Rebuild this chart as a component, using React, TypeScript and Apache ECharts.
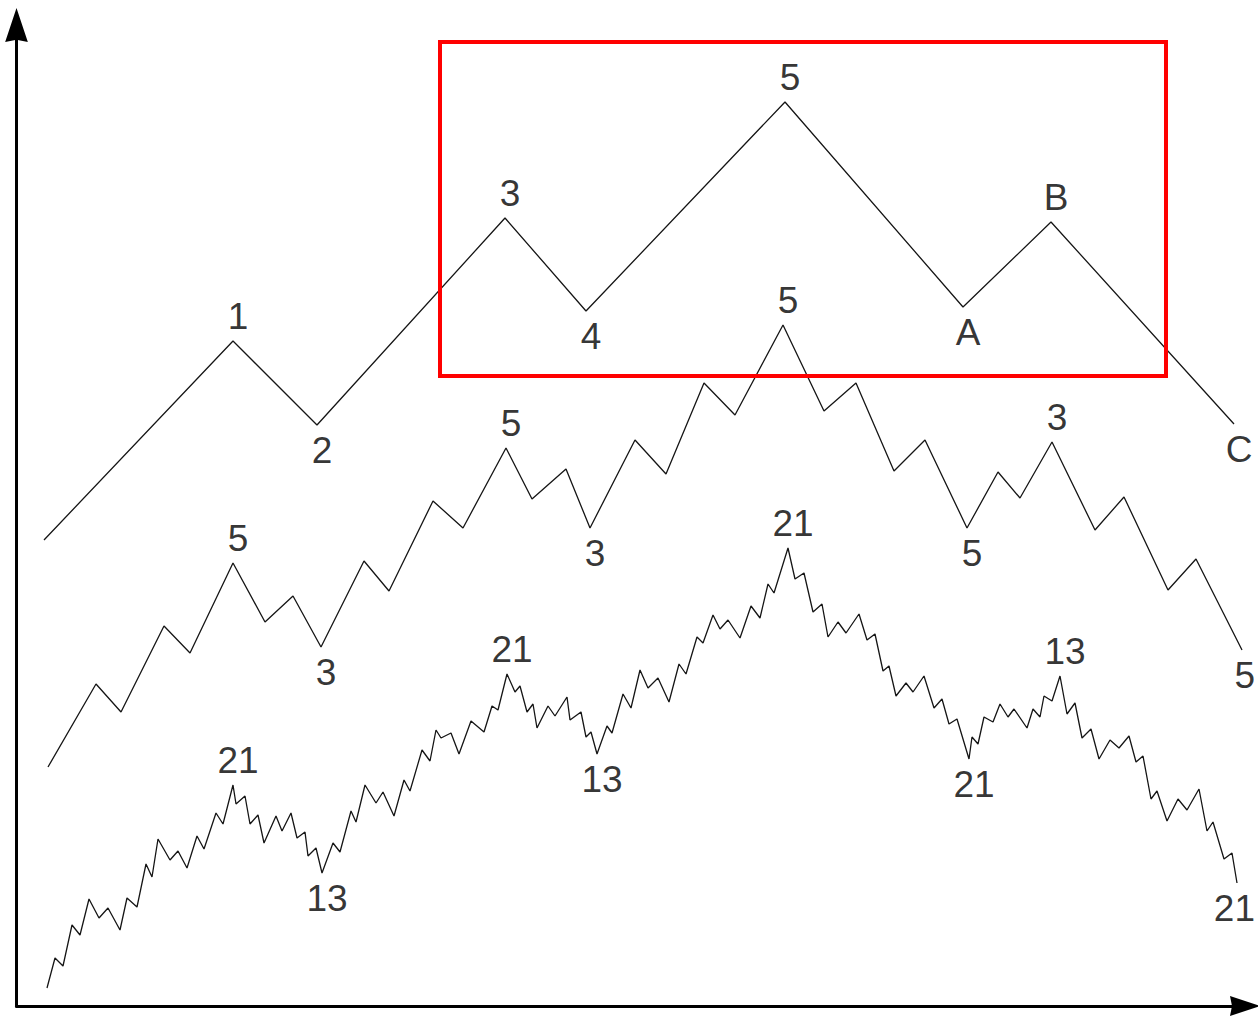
import React, { useEffect, useRef } from 'react';
import * as echarts from 'echarts';

// Each point is [time, level]; level is measured upward from the chart floor.
const cycleWave: [number, number][] = [
  [44, 481], [233, 680], [317, 596], [505, 803], [586, 710],
  [785, 919], [963, 714], [1051, 799], [1234, 597],
];
const cycleLabels = [
  { i: 1, t: '1' }, { i: 2, t: '2' }, { i: 3, t: '3' }, { i: 4, t: '4' },
  { i: 5, t: '5' }, { i: 6, t: 'A' }, { i: 7, t: 'B' }, { i: 8, t: 'C' },
];

const primaryWave: [number, number][] = [
  [48, 254], [96, 337], [121, 309], [164, 395], [190, 368], [233, 458],
  [265, 399], [293, 425], [321, 374],
  [364, 460], [389, 430], [433, 520], [463, 493], [506, 573],
  [532, 522], [566, 552], [590, 493],
  [635, 581], [666, 547], [704, 638], [735, 606], [783, 696],
  [824, 610], [856, 638], [894, 550], [925, 581], [967, 493],
  [998, 549], [1020, 523], [1052, 579],
  [1095, 491], [1124, 524], [1168, 431], [1196, 462], [1242, 371],
];
const primaryLabels = [
  { i: 5, t: '5' }, { i: 8, t: '3' }, { i: 13, t: '5' }, { i: 16, t: '3' },
  { i: 21, t: '5' }, { i: 26, t: '5' }, { i: 29, t: '3' }, { i: 34, t: '5' },
];

const minorWave: [number, number][] = [
  [47, 33], [55, 63], [63, 55], [72, 96], [80, 86], [89, 122], [99, 103], [108, 113],
  [120, 91], [127, 123], [137, 114], [146, 157], [152, 144], [158, 182], [170, 161],
  [178, 170], [187, 153], [197, 185], [204, 172], [216, 208], [223, 197], [233, 236],
  [236, 217], [245, 225], [250, 197], [258, 206], [264, 178], [276, 205], [282, 190],
  [291, 208], [297, 183], [305, 189], [308, 165], [316, 173], [322, 148],
  [333, 178], [340, 169], [351, 210], [356, 199], [365, 236], [376, 218], [383, 229],
  [394, 205], [404, 241], [410, 230], [422, 271], [430, 260], [436, 291], [441, 283],
  [451, 288], [459, 267], [471, 300], [484, 289], [492, 315], [498, 311], [507, 347],
  [515, 329], [520, 335], [527, 309], [533, 317], [537, 293], [548, 315], [555, 305],
  [567, 324], [570, 301], [581, 309], [586, 284], [591, 289], [597, 267],
  [607, 295], [612, 288], [623, 327], [631, 313], [640, 351], [648, 333], [658, 343],
  [669, 319], [679, 357], [686, 347], [697, 384], [703, 378], [713, 406], [720, 392],
  [728, 401], [740, 383], [751, 415], [760, 403], [768, 437], [774, 428], [788, 473],
  [795, 442], [804, 448], [813, 409], [822, 417], [828, 384], [838, 399], [846, 388],
  [859, 407], [867, 381], [875, 387], [883, 350], [889, 355], [896, 325], [906, 338],
  [913, 329], [924, 345], [934, 313], [942, 322], [949, 297], [957, 302], [969, 262],
  [972, 284], [978, 277], [984, 304], [993, 299], [1000, 317], [1008, 304], [1014, 312],
  [1027, 293], [1033, 312], [1040, 304], [1044, 325], [1052, 320], [1060, 345],
  [1067, 307], [1075, 318], [1082, 283], [1091, 292], [1099, 262], [1110, 281],
  [1119, 273], [1129, 285], [1136, 259], [1143, 265], [1151, 222], [1157, 230],
  [1167, 200], [1178, 222], [1187, 211], [1199, 232], [1207, 190], [1213, 199],
  [1224, 162], [1232, 168], [1237, 138],
];
const minorLabels = [
  { i: 21, t: '21' }, { i: 34, t: '13' }, { i: 55, t: '21' }, { i: 68, t: '13' },
  { i: 89, t: '21' }, { i: 110, t: '21' }, { i: 123, t: '13' }, { i: 144, t: '21' },
];

// Highlighted region: [time, level] corners
const boxCorners: [number, number][] = [[440, 979], [1166, 645]];

const ARROW = 'path://M10,0 L20,30 L10,28 L0,30 Z';
const X_MIN = 16.5;
const X_MAX = 1245;
const GRID_RIGHT = 13;
const FONT_SIZE = 37;
const LABEL_DX = 5;
const LABEL_DY = 25;

function labelItems(wave: [number, number][], labels: { i: number; t: string }[]) {
  // x data units equal pixels here, so keep every label inside the right edge
  const rightLimit = X_MAX + GRID_RIGHT - 3;
  return labels.map(({ i, t }) => {
    const p = wave[i];
    const prev = wave[i - 1];
    const next = wave[i + 1];
    const isPeak = (!prev || p[1] > prev[1]) && (!next || p[1] > next[1]);
    const half = (t.length * 0.556 * FONT_SIZE) / 2;
    let dx = LABEL_DX;
    if (p[0] + dx + half > rightLimit) dx = rightLimit - half - p[0];
    return {
      value: p,
      label: { formatter: t, offset: [dx, isPeak ? -LABEL_DY : LABEL_DY] },
    };
  });
}

const lineStyle = { color: '#151515', width: 1.3 };

export default function App() {
  const ref = useRef<HTMLDivElement>(null);
  useEffect(() => {
    if (!ref.current) return;
    const chart = echarts.init(ref.current, null, { renderer: 'svg' });
    const axisCommon = {
      type: 'value' as const,
      axisTick: { show: false },
      axisLabel: { show: false },
      splitLine: { show: false },
    };
    chart.setOption({
      animation: false,
      backgroundColor: '#ffffff',
      grid: { left: X_MIN, right: GRID_RIGHT, top: 25, bottom: 15 },
      xAxis: {
        ...axisCommon,
        min: X_MIN,
        max: X_MAX,
        axisLine: {
          show: true,
          onZero: false,
          symbol: ['none', ARROW],
          symbolSize: [30, 30],
          lineStyle: { color: '#000', width: 3 },
        },
      },
      yAxis: {
        ...axisCommon,
        min: 15,
        max: 996,
        axisLine: {
          show: true,
          onZero: false,
          symbol: ['none', ARROW],
          symbolSize: [26, 34],
          lineStyle: { color: '#000', width: 3 },
        },
      },
      series: [
        { type: 'line', data: minorWave, symbol: 'none', lineStyle, silent: true, z: 2 },
        { type: 'line', data: primaryWave, symbol: 'none', lineStyle, silent: true, z: 2 },
        {
          type: 'line', data: cycleWave, symbol: 'none', lineStyle, silent: true, z: 2,
          markArea: {
            silent: true,
            z: 10,
            label: { show: false },
            itemStyle: { color: 'rgba(0,0,0,0)', borderColor: '#ff0000', borderWidth: 4 },
            data: [[{ coord: boxCorners[0] }, { coord: boxCorners[1] }]],
          },
        },
        {
          type: 'scatter',
          silent: true,
          symbolSize: 1,
          itemStyle: { color: 'rgba(0,0,0,0)' },
          z: 12,
          label: {
            show: true,
            position: 'inside',
            color: '#000',
            fontSize: FONT_SIZE,
            fontFamily: '"Liberation Sans", Arial, sans-serif',
            textBorderWidth: 0,
          },
          data: [
            ...labelItems(cycleWave, cycleLabels),
            ...labelItems(primaryWave, primaryLabels),
            ...labelItems(minorWave, minorLabels),
          ],
        },
      ],
    });
    return () => chart.dispose();
  }, []);
  return (
    <div
      ref={ref}
      style={{ position: 'fixed', left: 0, top: 0, width: '1258px', height: '1021px', background: '#fff' }}
    />
  );
}
